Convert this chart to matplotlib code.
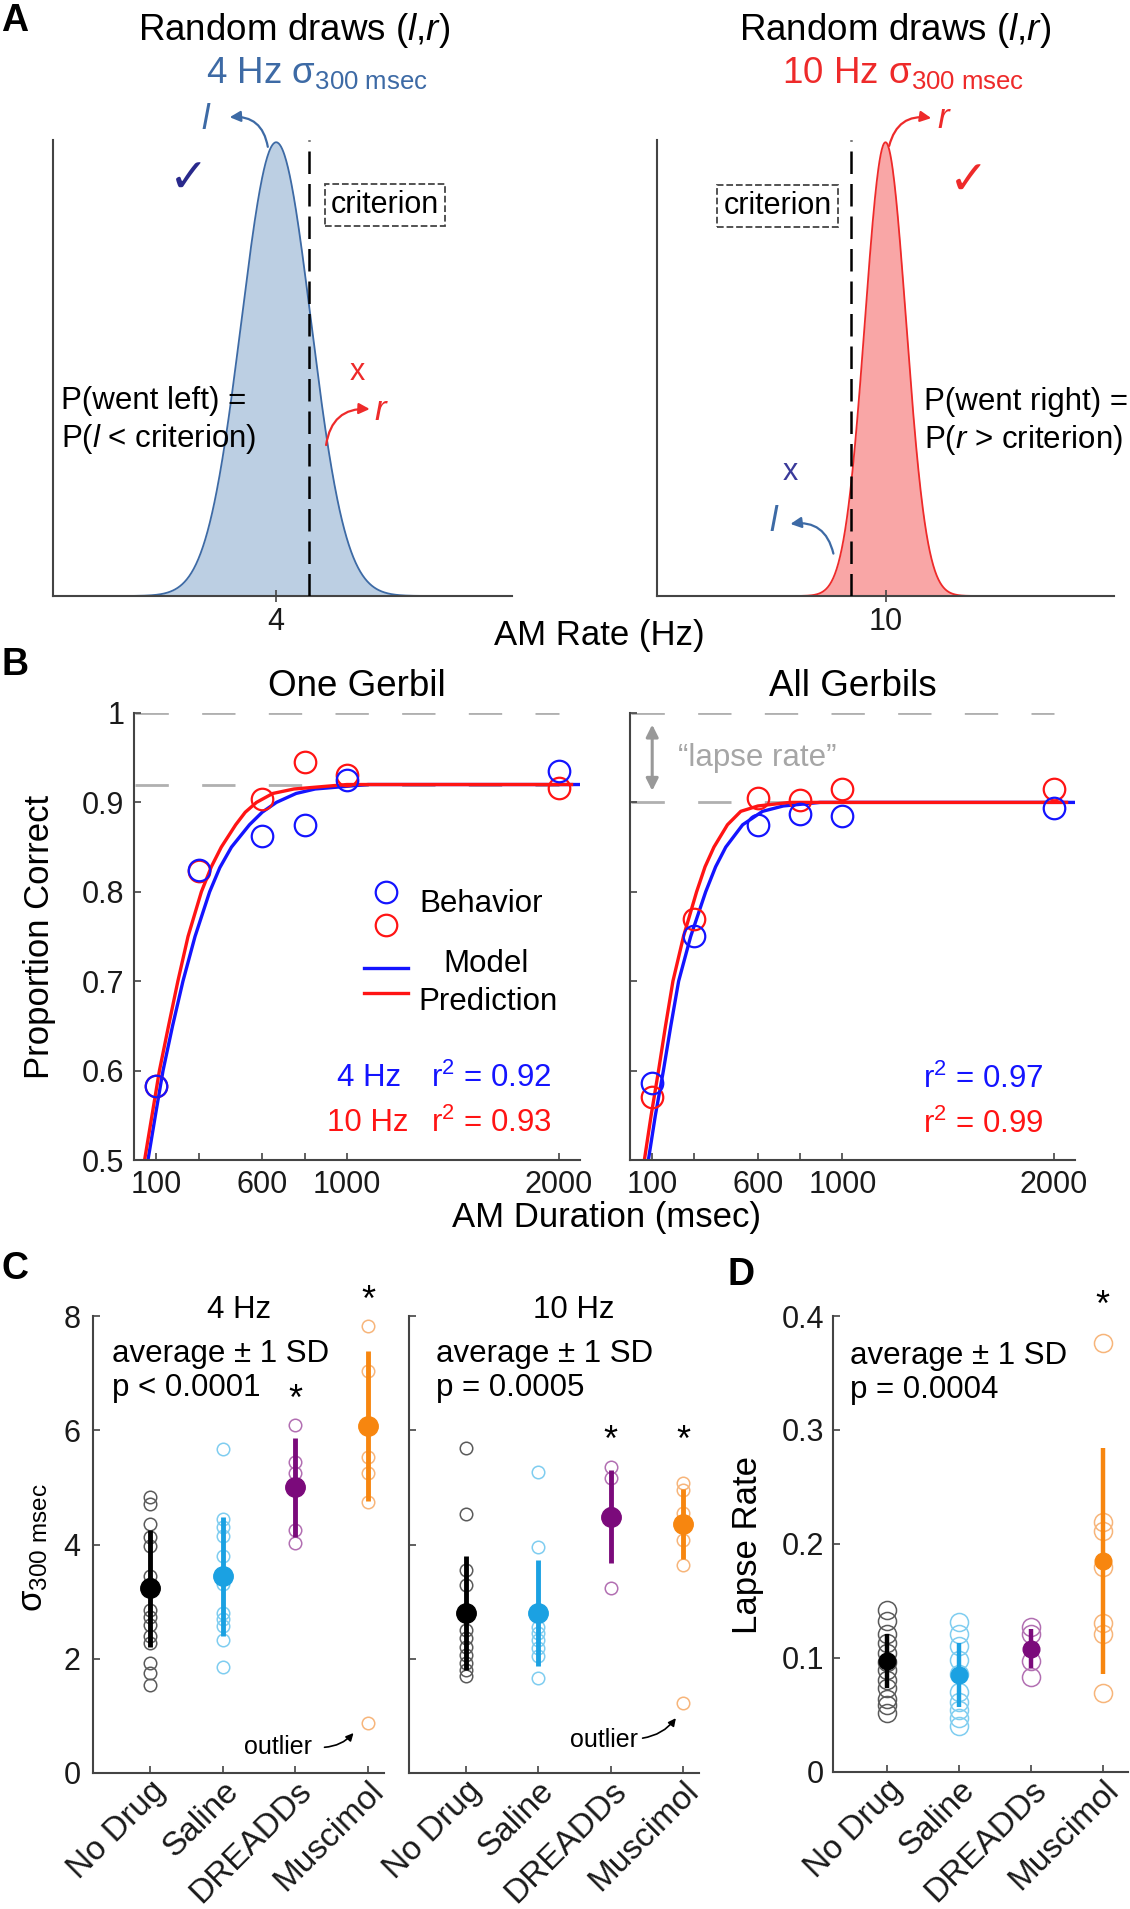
import numpy as np
import matplotlib
matplotlib.use("Agg")
import matplotlib.pyplot as plt
from matplotlib.lines import Line2D

plt.rcParams['font.family'] = ['Liberation Sans', 'DejaVu Sans']
plt.rcParams['mathtext.fontset'] = 'custom'
plt.rcParams['mathtext.rm'] = 'Liberation Sans'
plt.rcParams['mathtext.it'] = 'Liberation Sans:italic'
plt.rcParams['mathtext.bf'] = 'Liberation Sans:bold'

# ---------------- data ----------------
# Panel A (schematic distributions)
dist_means = [4, 10]
dist_sigmas = [0.606, 0.36]
criteria = [4.575, 9.40]
dist_xlims = [(0.11, 8.11), (6.0, 14.0)]
dist_ticklabels = ['4', '10']

# Panel B
durations = [100, 300, 600, 800, 1000, 2000]
one_4hz = [0.583, 0.824, 0.862, 0.875, 0.925, 0.935]
one_10hz = [0.583, 0.823, 0.904, 0.945, 0.931, 0.916]
all_4hz = [0.586, 0.751, 0.875, 0.887, 0.885, 0.894]
all_10hz = [0.570, 0.770, 0.905, 0.903, 0.915, 0.915]
one_asymptote = 0.92
all_asymptote = 0.90

one_model_4hz_x = [61, 96, 132, 177, 226, 283, 352, 400, 455, 540, 600, 667, 760, 850, 1100, 2100]
one_model_4hz_y = [0.5, 0.55, 0.6, 0.65, 0.7, 0.75, 0.8, 0.827, 0.85, 0.875, 0.889, 0.9, 0.91, 0.915, 0.92, 0.92]
one_model_10hz_x = [45, 80, 115, 158, 202, 250, 313, 360, 407, 475, 520, 573, 650, 750, 1000, 2060]
one_model_10hz_y = [0.5, 0.55, 0.6, 0.65, 0.7, 0.75, 0.8, 0.828, 0.85, 0.875, 0.889, 0.9, 0.91, 0.915, 0.92, 0.92]
all_model_4hz_x = [82, 115, 153, 188, 225, 282, 353, 400, 448, 528, 622, 720, 894, 2100]
all_model_4hz_y = [0.5, 0.55, 0.6, 0.65, 0.7, 0.75, 0.8, 0.828, 0.85, 0.875, 0.89, 0.896, 0.9, 0.9]
all_model_10hz_x = [63, 95, 130, 163, 198, 248, 310, 350, 392, 456, 519, 600, 750, 2060]
all_model_10hz_y = [0.5, 0.55, 0.6, 0.65, 0.7, 0.75, 0.8, 0.828, 0.85, 0.875, 0.89, 0.896, 0.9, 0.9]

# Panel C / D
groups = ['No Drug', 'Saline', 'DREADDs', 'Muscimol']
sigma4_nodrug = [4.83, 4.71, 4.36, 4.14, 3.98, 3.45, 3.30, 2.85, 2.73, 2.59, 2.40, 2.27, 1.93, 1.75, 1.54]
sigma4_saline = [5.67, 4.45, 4.30, 4.15, 3.79, 3.30, 2.80, 2.70, 2.58, 2.33, 1.86]
sigma4_dreadds = [6.09, 5.45, 5.25, 4.26, 4.02]
sigma4_muscimol = [7.83, 7.03, 6.10, 5.54, 5.25, 4.75, 0.87]
sigma4_mean = [3.23, 3.44, 5.00, 6.08]
sigma4_sd = [1.03, 1.05, 0.87, 1.31]
sigma4_stars = [None, None, 6.53, 8.25]

sigma10_nodrug = [5.69, 4.54, 3.56, 3.29, 2.80, 2.50, 2.36, 2.21, 2.07, 1.92, 1.80, 1.70]
sigma10_saline = [5.27, 3.96, 2.80, 2.56, 2.45, 2.33, 2.18, 2.04, 1.66]
sigma10_dreadds = [5.36, 5.16, 4.55, 3.23]
sigma10_muscimol = [5.07, 4.96, 4.55, 4.30, 4.08, 3.64, 1.22]
sigma10_mean = [2.80, 2.80, 4.49, 4.36]
sigma10_sd = [1.00, 0.92, 0.82, 0.61]
sigma10_stars = [None, None, 5.80, 5.80]

lapse_nodrug = [0.142, 0.132, 0.121, 0.113, 0.104, 0.096, 0.089, 0.080, 0.073, 0.064, 0.058, 0.051]
lapse_saline = [0.131, 0.121, 0.110, 0.098, 0.086, 0.070, 0.061, 0.054, 0.047, 0.040]
lapse_dreadds = [0.127, 0.121, 0.097, 0.083]
lapse_muscimol = [0.376, 0.219, 0.211, 0.180, 0.130, 0.121, 0.069]
lapse_mean = [0.097, 0.085, 0.108, 0.185]
lapse_sd = [0.024, 0.028, 0.017, 0.099]
lapse_stars = [None, None, None, 0.408]

group_colors = ['#000000', '#1ba1e2', '#7b0a7b', '#f7860f']
circle_colors = ['#5a5a5a', '#7fcdf0', '#b26fb2', '#f7b57a']

# ---------------- figure ----------------
W, H = 1130, 1909
fig = plt.figure(figsize=(11.3, 19.09), dpi=100)


def add_ax(x0, y0, x1, y1):
    return fig.add_axes([x0 / W, 1 - y1 / H, (x1 - x0) / W, (y1 - y0) / H])


def ftext(x, y, s, **kw):
    return fig.text(x / W, 1 - y / H, s, **kw)


AXC = '#444444'


def style(ax, labelsize=22, pad=6):
    for s in ['top', 'right']:
        ax.spines[s].set_visible(False)
    for s in ['left', 'bottom']:
        ax.spines[s].set_color(AXC)
        ax.spines[s].set_linewidth(1.5)
    ax.tick_params(direction='in', length=5, width=1.2, color=AXC,
                   labelsize=labelsize, labelcolor='#1a1a1a', pad=pad)


# ---------------- Panel A ----------------
A_boxes = [(53, 140, 512, 596), (657, 140, 1114, 596)]
fill_cols = ['#bccfe3', '#f9a6a6']
edge_cols = ['#3d6aa5', '#ee2a2a']
axA = []
for k in range(2):
    ax = add_ax(*A_boxes[k])
    axA.append(ax)
    lo, hi = dist_xlims[k]
    xs = np.linspace(lo, hi, 800)
    pdf = np.exp(-0.5 * ((xs - dist_means[k]) / dist_sigmas[k]) ** 2)
    ax.fill_between(xs, pdf, color=fill_cols[k], lw=0, zorder=1)
    ax.plot(xs, pdf, color=edge_cols[k], lw=1.3, zorder=2)
    ax.plot([criteria[k]] * 2, [0, 1.005], color='k', lw=1.8, ls=(0, (9, 4)), zorder=3)
    ax.set_xlim(lo, hi)
    ax.set_ylim(0, 1.005)
    style(ax)
    ax.set_yticks([])
    ax.set_xticks([dist_means[k]])
    ax.set_xticklabels([dist_ticklabels[k]])
    ax.tick_params(axis='x', direction='inout', length=8, pad=4)

# titles
ftext(294, 31, 'Random draws ($\\mathit{l}$,$\\mathit{r}$)', fontsize=26.5, ha='center', va='center')
ftext(895, 31, 'Random draws ($\\mathit{l}$,$\\mathit{r}$)', fontsize=26.5, ha='center', va='center')
ftext(317, 73, '4 Hz σ$_{\\mathregular{300\\ msec}}$', fontsize=26.5, ha='center', va='center', color='#3d6aa5')
ftext(903, 73, '10 Hz σ$_{\\mathregular{300\\ msec}}$', fontsize=26.5, ha='center', va='center', color='#ee2a2a')

# left A annotations
a = axA[0]
a.text(0.331, 1.046, 'l', transform=a.transAxes, fontsize=25, style='italic', color='#3d6aa5',
       ha='center', va='center', clip_on=False)
a.annotate('', xy=(0.385, 1.05), xytext=(0.468, 0.985), xycoords='axes fraction',
           textcoords='axes fraction',
           arrowprops=dict(arrowstyle='-|>', color='#3d6aa5', lw=1.6, mutation_scale=16,
                           connectionstyle='arc3,rad=0.45', shrinkA=0, shrinkB=0))
a.text(0.296, 0.912, '✓', transform=a.transAxes, fontsize=34, fontweight='bold', color='#29298c',
       ha='center', va='center', family=['DejaVu Sans'])
a.text(0.723, 0.857, 'criterion', transform=a.transAxes, fontsize=22, ha='center', va='center',
       bbox=dict(boxstyle='square,pad=0.2', fc='white', ec='#444444', ls='--', lw=1.3))
a.text(0.662, 0.491, 'x', transform=a.transAxes, fontsize=22, color='#ee2a2a', ha='center', va='center')
a.text(0.712, 0.406, 'r', transform=a.transAxes, fontsize=25, style='italic', color='#ee2a2a',
       ha='center', va='center')
a.annotate('', xy=(0.69, 0.41), xytext=(0.595, 0.331), xycoords='axes fraction',
           textcoords='axes fraction',
           arrowprops=dict(arrowstyle='-|>', color='#ee2a2a', lw=1.6, mutation_scale=16,
                           connectionstyle='arc3,rad=-0.45', shrinkA=0, shrinkB=0))
a.text(0.017, 0.428, 'P(went left) =', transform=a.transAxes, fontsize=22.5, ha='left', va='center')
a.text(0.017, 0.344, 'P($\\mathit{l}$ < criterion)', transform=a.transAxes, fontsize=22.5, ha='left', va='center')

# right A annotations
a = axA[1]
a.text(0.626, 1.047, 'r', transform=a.transAxes, fontsize=25, style='italic', color='#ee2a2a',
       ha='center', va='center', clip_on=False)
a.annotate('', xy=(0.6, 1.048), xytext=(0.508, 0.987), xycoords='axes fraction',
           textcoords='axes fraction',
           arrowprops=dict(arrowstyle='-|>', color='#ee2a2a', lw=1.6, mutation_scale=16,
                           connectionstyle='arc3,rad=-0.45', shrinkA=0, shrinkB=0))
a.text(0.682, 0.908, '✓', transform=a.transAxes, fontsize=34, fontweight='bold', color='#ee2a2a',
       ha='center', va='center', family=['DejaVu Sans'])
a.text(0.264, 0.856, 'criterion', transform=a.transAxes, fontsize=22, ha='center', va='center',
       bbox=dict(boxstyle='square,pad=0.2', fc='white', ec='#444444', ls='--', lw=1.3))
a.text(0.291, 0.271, 'x', transform=a.transAxes, fontsize=22, color='#3a3a9a', ha='center', va='center')
a.text(0.254, 0.164, 'l', transform=a.transAxes, fontsize=25, style='italic', color='#3d6aa5',
       ha='center', va='center')
a.annotate('', xy=(0.292, 0.158), xytext=(0.386, 0.093), xycoords='axes fraction',
           textcoords='axes fraction',
           arrowprops=dict(arrowstyle='-|>', color='#3d6aa5', lw=1.6, mutation_scale=16,
                           connectionstyle='arc3,rad=0.45', shrinkA=0, shrinkB=0))
a.text(0.585, 0.425, 'P(went right) =', transform=a.transAxes, fontsize=22.5, ha='left', va='center')
a.text(0.585, 0.343, 'P($\\mathit{r}$ > criterion)', transform=a.transAxes, fontsize=22.5, ha='left', va='center')

ftext(599, 636, 'AM Rate (Hz)', fontsize=25, ha='center', va='center')

# ---------------- Panel B ----------------
B_boxes = [(134, 713, 580, 1160), (630, 713, 1075, 1160)]
axB = [add_ax(*b) for b in B_boxes]
BLUE, RED = '#1414ff', '#ff1414'
GRAYD = '#b0b0b0'
b_sets = [
    (one_4hz, one_10hz, one_model_4hz_x, one_model_4hz_y, one_model_10hz_x, one_model_10hz_y, one_asymptote),
    (all_4hz, all_10hz, all_model_4hz_x, all_model_4hz_y, all_model_10hz_x, all_model_10hz_y, all_asymptote),
]
for k, ax in enumerate(axB):
    d4, d10, m4x, m4y, m10x, m10y, asym = b_sets[k]
    ax.plot([0, 2000], [1.0, 1.0], color=GRAYD, lw=2, ls=(0, (12, 12)), zorder=1)
    ax.plot([0, 2000], [asym, asym], color=GRAYD, lw=2, ls=(0, (12, 12)), zorder=1)
    ax.plot(m4x, m4y, color=BLUE, lw=2.4, zorder=2, solid_joinstyle='round')
    ax.plot(m10x, m10y, color=RED, lw=2.4, zorder=3, solid_joinstyle='round')
    ax.plot(durations, d10, 'o', mfc='none', mec=RED, ms=15.5, mew=1.6, zorder=4)
    ax.plot(durations, d4, 'o', mfc='none', mec=BLUE, ms=15.5, mew=1.6, zorder=5)
    ax.set_xlim(-5, 2100)
    ax.set_ylim(0.5, 1.0)
    style(ax, pad=7)
    ax.set_xticks([100, 300, 600, 800, 1000, 2000])
    ax.set_xticklabels(['100', '', '600', '', '1000', '2000'])
    ax.set_yticks([0.5, 0.6, 0.7, 0.8, 0.9, 1.0])
    if k == 0:
        ax.set_yticklabels(['0.5', '0.6', '0.7', '0.8', '0.9', '1'])
    else:
        ax.set_yticklabels([])
    for sp in ['left', 'bottom']:
        ax.spines[sp].set_zorder(6)

axB[0].text(0.5, 1.06, 'One Gerbil', transform=axB[0].transAxes, fontsize=26.5, ha='center', va='center')
axB[1].text(0.5, 1.06, 'All Gerbils', transform=axB[1].transAxes, fontsize=26.5, ha='center', va='center')

# legend (left B)
a = axB[0]
a.add_line(Line2D([0.5643], [0.599], marker='o', mfc='none', mec=BLUE, ms=15.5, mew=1.6,
                  transform=a.transAxes, ls='none'))
a.add_line(Line2D([0.5643], [0.526], marker='o', mfc='none', mec=RED, ms=15.5, mew=1.6,
                  transform=a.transAxes, ls='none'))
a.text(0.639, 0.573, 'Behavior', transform=a.transAxes, fontsize=22.5, ha='left', va='center')
a.add_line(Line2D([0.516, 0.615], [0.430, 0.430], color=BLUE, lw=2.4, transform=a.transAxes))
a.add_line(Line2D([0.516, 0.615], [0.373, 0.373], color=RED, lw=2.4, transform=a.transAxes))
a.text(0.79, 0.438, 'Model', transform=a.transAxes, fontsize=22.5, ha='center', va='center')
a.text(0.637, 0.354, 'Prediction', transform=a.transAxes, fontsize=22.5, ha='left', va='center')
a.text(0.4545, 0.183, '4 Hz', transform=a.transAxes, fontsize=22.5, ha='left', va='center', color=BLUE)
a.text(0.665, 0.183, 'r$^{2}$ = 0.92', transform=a.transAxes, fontsize=22.5, ha='left', va='center', color=BLUE)
a.text(0.433, 0.083, '10 Hz', transform=a.transAxes, fontsize=22.5, ha='left', va='center', color=RED)
a.text(0.665, 0.083, 'r$^{2}$ = 0.93', transform=a.transAxes, fontsize=22.5, ha='left', va='center', color=RED)

a = axB[1]
a.text(0.658, 0.181, 'r$^{2}$ = 0.97', transform=a.transAxes, fontsize=22.5, ha='left', va='center', color=BLUE)
a.text(0.658, 0.080, 'r$^{2}$ = 0.99', transform=a.transAxes, fontsize=22.5, ha='left', va='center', color=RED)
a.annotate('', xy=(100, all_asymptote + 0.013), xytext=(100, 0.987),
           arrowprops=dict(arrowstyle='<|-|>', color='#999999', lw=2.2, mutation_scale=18,
                           shrinkA=0, shrinkB=0))
a.text(598, 0.95, '\u201clapse rate\u201d', fontsize=22.5, color='#a6a6a6', ha='center', va='center')

ftext(40, 937, 'Proportion Correct', fontsize=25, rotation=90, ha='center', va='center')
ftext(607, 1218, 'AM Duration (msec)', fontsize=25, ha='center', va='center')

# ---------------- Panel C / D ----------------


def group_plot(ax, vals_list, means, sds, stars, ms_pt, ms_mean, lw_err, star_size=26):
    for i, vals in enumerate(vals_list):
        x = i + 1
        ax.plot(np.full(len(vals), x), vals, 'o', mfc='none', mec=circle_colors[i],
                ms=ms_pt, mew=1.1, zorder=2, clip_on=False)
        ax.errorbar([x], [means[i]], yerr=[sds[i]], fmt='o', color=group_colors[i],
                    ms=ms_mean, elinewidth=lw_err, capsize=0, zorder=3)
        if stars[i] is not None:
            ax.text(x, stars[i], '*', fontsize=star_size, ha='center', va='center', clip_on=False)


C_boxes = [(93, 1316, 384, 1773), (409, 1316, 699, 1773)]
axC = [add_ax(*b) for b in C_boxes]
c_sets = [
    ([sigma4_nodrug, sigma4_saline, sigma4_dreadds, sigma4_muscimol], sigma4_mean, sigma4_sd, sigma4_stars),
    ([sigma10_nodrug, sigma10_saline, sigma10_dreadds, sigma10_muscimol], sigma10_mean, sigma10_sd, sigma10_stars),
]
for k, ax in enumerate(axC):
    vals_list, means, sds, stars = c_sets[k]
    group_plot(ax, vals_list, means, sds, stars, ms_pt=9, ms_mean=14, lw_err=3.5)
    ax.set_xlim(0.21, 4.22)
    ax.set_ylim(0, 8)
    style(ax, pad=9)
    ax.set_yticks([0, 2, 4, 6, 8])
    if k == 1:
        ax.set_yticklabels([])
    ax.set_xticks([1, 2, 3, 4])
    ax.set_xticklabels(groups, rotation=45, ha='right', va='top', rotation_mode='anchor', fontsize=24)
    ax.tick_params(axis='x', pad=2)

axC[0].text(0.502, 1.013, '4 Hz', transform=axC[0].transAxes, fontsize=22.5, ha='center', va='center')
axC[1].text(0.567, 1.013, '10 Hz', transform=axC[1].transAxes, fontsize=22.5, ha='center', va='center')
axC[0].text(0.065, 0.917, 'average ± 1 SD', transform=axC[0].transAxes, fontsize=22.5, ha='left', va='center')
axC[0].text(0.065, 0.842, 'p < 0.0001', transform=axC[0].transAxes, fontsize=22.5, ha='left', va='center')
axC[1].text(0.093, 0.917, 'average ± 1 SD', transform=axC[1].transAxes, fontsize=22.5, ha='left', va='center')
axC[1].text(0.093, 0.842, 'p = 0.0005', transform=axC[1].transAxes, fontsize=22.5, ha='left', va='center')

# outlier notes
axC[0].text(3.228, 0.46, 'outlier', fontsize=18, ha='right', va='center')
axC[0].annotate('', xy=(3.80, 0.70), xytext=(3.40, 0.45),
                arrowprops=dict(arrowstyle='-|>', color='k', lw=1.2, mutation_scale=11,
                                connectionstyle='arc3,rad=0.2', shrinkA=0, shrinkB=0))
axC[1].text(3.37, 0.58, 'outlier', fontsize=18, ha='right', va='center')
axC[1].annotate('', xy=(3.90, 0.96), xytext=(3.44, 0.61),
                arrowprops=dict(arrowstyle='-|>', color='k', lw=1.2, mutation_scale=11,
                                connectionstyle='arc3,rad=0.2', shrinkA=0, shrinkB=0))

ftext(34, 1548, 'σ$_{\\mathregular{300\\ msec}}$', fontsize=25, rotation=90, ha='center', va='center')

axD = add_ax(832.5, 1316, 1128, 1771.5)
group_plot(axD, [lapse_nodrug, lapse_saline, lapse_dreadds, lapse_muscimol], lapse_mean, lapse_sd,
           lapse_stars, ms_pt=13, ms_mean=12, lw_err=3.2)
axD.set_xlim(0.25, 4.35)
axD.set_ylim(0, 0.4)
style(axD, pad=6)
axD.set_yticks([0, 0.1, 0.2, 0.3, 0.4])
axD.set_yticklabels(['0', '0.1', '0.2', '0.3', '0.4'])
axD.set_xticks([1, 2, 3, 4])
axD.set_xticklabels(groups, rotation=45, ha='right', va='top', rotation_mode='anchor', fontsize=24)
axD.tick_params(axis='x', pad=2)
axD.text(0.059, 0.912, 'average ± 1 SD', transform=axD.transAxes, fontsize=22.5, ha='left', va='center')
axD.text(0.059, 0.8375, 'p = 0.0004', transform=axD.transAxes, fontsize=22.5, ha='left', va='center')
ftext(748, 1545, 'Lapse Rate', fontsize=25, rotation=90, ha='center', va='center')

# panel letters
for (x, y, s) in [(15, 21, 'A'), (15, 665, 'B'), (15, 1269, 'C'), (741, 1275, 'D')]:
    ftext(x, y, s, fontsize=27, fontweight='bold', ha='center', va='center')

fig.savefig('out.png', dpi=100)
